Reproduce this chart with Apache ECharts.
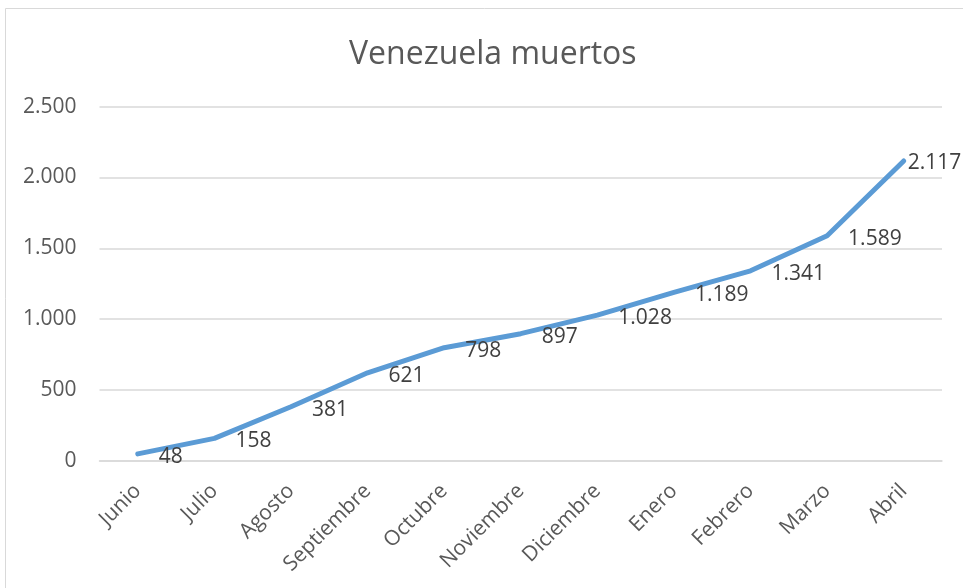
<!DOCTYPE html>
<html><head><meta charset="utf-8">
<script src="https://cdn.jsdelivr.net/npm/echarts@6/dist/echarts.min.js"></script>
<style>html,body{margin:0;padding:0;background:#fff}#c{width:963px;height:588px}</style>
</head><body><div id="c"></div>
<script>
const categories = ['Junio','Julio','Agosto','Septiembre','Octubre','Noviembre','Diciembre','Enero','Febrero','Marzo','Abril'];
const values = [48,158,381,621,798,897,1028,1189,1341,1589,2117];
const yTicks = [0,500,1000,1500,2000,2500];
function fmt(v){return String(v).replace(/\B(?=(\d{3})+(?!\d))/g,'.');}
const chart = echarts.init(document.getElementById('c'));
const font = '"Open Sans", sans-serif';
chart.setOption({
  animation:false,
  title:{text:'Venezuela muertos',left:344,top:34,textStyle:{fontFamily:font,fontSize:32,fontWeight:'normal',color:'#595959'}},
  graphic:[{type:'rect',shape:{x:5.5,y:8.5,width:960,height:590},style:{fill:'none',stroke:'#d9d9d9',lineWidth:1}}],
  grid:{left:99.5,right:21,top:106.7,bottom:127.3},
  xAxis:{type:'category',data:categories,boundaryGap:true,
    axisLine:{show:true,lineStyle:{color:'#d9d9d9',width:1.5}},axisTick:{show:false},
    axisLabel:{rotate:45,fontFamily:font,fontSize:21,color:'#595959',margin:27,interval:0}},
  yAxis:{type:'value',min:0,max:2500,interval:500,
    axisLine:{show:false},axisTick:{show:false},
    splitLine:{lineStyle:{color:'#d9d9d9',width:1.5}},
    axisLabel:{fontFamily:font,fontSize:21,color:'#595959',margin:23,formatter:v=>fmt(v)}},
  series:[{type:'line',data:values.map((v,i)=>i===values.length-1?{value:v,label:{distance:3,offset:[0,2]}}:v),
    symbol:'circle',symbolSize:2,itemStyle:{color:'rgba(0,0,0,0)'},
    lineStyle:{color:'#5B9BD5',width:5,cap:'round'},
    label:{show:true,position:'right',distance:20,offset:[0,3],fontFamily:font,fontSize:21,color:'#404040',formatter:p=>fmt(p.value)}}]
});
</script></body></html>
